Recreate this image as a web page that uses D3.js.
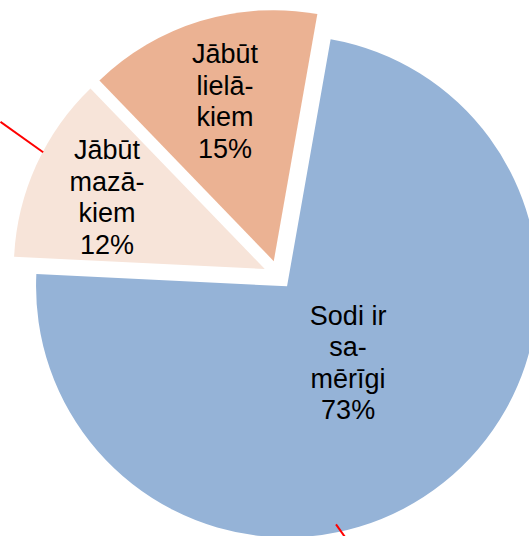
<!DOCTYPE html>
<html>
<head>
<meta charset="utf-8">
<script src="https://cdn.jsdelivr.net/npm/d3@7"></script>
<style>
  body { margin: 0; background: #fff; overflow: hidden; }
  svg { display: block; }
</style>
</head>
<body>
<svg id="chart" width="529" height="536"></svg>
<script>
// slices, in clockwise order from the top
const categories = ["Sodi ir samērīgi", "Jābūt mazākiem", "Jābūt lielākiem"];
const values = [73, 12, 15];
const labelLines = [["Sodi ir", "sa-", "mērīgi"], ["Jābūt", "mazā-", "kiem"], ["Jābūt", "lielā-", "kiem"]];
const colors = ["#95b3d7", "#f7e4d9", "#ebb293"];

// stray red leader lines, polar coords [angle deg, radius] from pie centre
const leaders = [[[-61.1, 317], [-62.4, 265]], [[166.9, 256], [165.3, 275]]];

const width = 529, height = 536;
const cx = 278, cy = 275;
const radius = 251;
const explode = 14.5;
const labelDist = [0.39, 0.69, 0.665];
const lineH = 31.5;
const rad = d => d * Math.PI / 180;

const svg = d3.select("#chart");
const g = svg.append("g").attr("transform", `translate(${cx},${cy})`);

const pie = d3.pie().sort(null).value(d => d.value)
  .startAngle(rad(10)).endAngle(rad(370));
const arc = d3.arc().innerRadius(0).outerRadius(radius);

const data = categories.map((c, i) => ({ name: c, value: values[i], lines: labelLines[i], color: colors[i], idx: i }));
const arcs = pie(data);

const slices = g.selectAll("g.slice")
  .data(arcs)
  .join("g")
  .attr("class", "slice")
  .attr("transform", d => {
    const p = d3.pointRadial((d.startAngle + d.endAngle) / 2, explode);
    return `translate(${p[0]},${p[1]})`;
  });

slices.append("path")
  .attr("d", arc)
  .attr("fill", d => d.data.color);

slices.each(function(d) {
  const mid = (d.startAngle + d.endAngle) / 2;
  const p = d3.pointRadial(mid, radius * labelDist[d.data.idx]);
  const lines = d.data.lines.concat([d.data.value + "%"]);
  const t = d3.select(this).append("text")
    .attr("text-anchor", "middle")
    .attr("font-family", "Arial, 'Liberation Sans', sans-serif")
    .attr("font-size", "27px")
    .attr("fill", "#000");
  lines.forEach((s, i) => {
    t.append("tspan")
      .attr("x", p[0])
      .attr("y", p[1] + (i - (lines.length - 1) / 2) * lineH + 9)
      .text(s);
  });
});

g.selectAll("line.leader")
  .data(leaders)
  .join("line")
  .attr("class", "leader")
  .each(function(l) {
    const a = d3.pointRadial(rad(l[0][0]), l[0][1]);
    const b = d3.pointRadial(rad(l[1][0]), l[1][1]);
    d3.select(this).attr("x1", a[0]).attr("y1", a[1]).attr("x2", b[0]).attr("y2", b[1]);
  })
  .attr("stroke", "#ff0000")
  .attr("stroke-width", 2);
</script>
</body>
</html>
